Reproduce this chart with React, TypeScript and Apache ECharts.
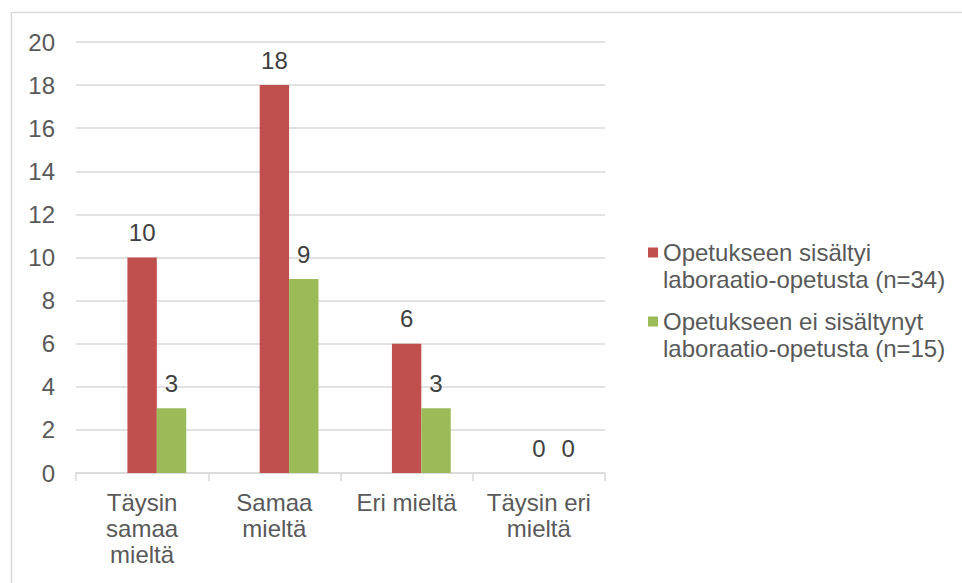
import React, { useEffect, useRef } from "react";
import * as echarts from "echarts";

const categories = ["Täysin\nsamaa\nmieltä", "Samaa\nmieltä", "Eri mieltä", "Täysin eri\nmieltä"];
const seriesNames = [
  "Opetukseen sisältyi\nlaboraatio-opetusta (n=34)",
  "Opetukseen ei sisältynyt\nlaboraatio-opetusta (n=15)",
];
const withLab = [10, 18, 6, 0];
const withoutLab = [3, 9, 3, 0];
const emptySeries = [null, null, null, null];
const yTicks = { min: 0, max: 20, interval: 2 };

const FONT = "'Liberation Sans', Arial, sans-serif";
const TXT = "#595959";
const GRID = "#D9D9D9";

export default function App() {
  const ref = useRef<HTMLDivElement>(null);
  useEffect(() => {
    if (!ref.current) return;
    const chart = echarts.init(ref.current, undefined, { renderer: "svg" });
    const label = {
      show: true,
      position: "top",
      distance: 13,
      color: "#404040",
      fontSize: 24,
      fontFamily: FONT,
    };
    const legendBase = {
      orient: "vertical",
      left: 648,
      padding: 0,
      itemWidth: 10,
      itemHeight: 10,
      icon: "rect",
      selectedMode: false,
      formatter: (name: string) => "\n" + name,
      textStyle: {
        color: TXT,
        fontSize: 24,
        fontFamily: FONT,
        lineHeight: 27,
      },
    };
    chart.setOption({
      animation: false,
      backgroundColor: "#ffffff",
      textStyle: { fontFamily: FONT },
      graphic: [
        {
          type: "rect",
          shape: { x: 11.5, y: 12.5, width: 1000, height: 700 },
          style: { fill: "none", stroke: GRID, lineWidth: 1.5 },
          silent: true,
          z: -10,
        },
      ],
      grid: { left: 76, right: 357, top: 42, bottom: 110, containLabel: false },
      legend: [
        { ...legendBase, data: [seriesNames[0]], top: 212 },
        { ...legendBase, data: [seriesNames[1]], top: 281 },
      ],
      xAxis: {
        type: "category",
        data: categories,
        axisLine: { show: true, lineStyle: { color: GRID, width: 1.5 } },
        axisTick: { show: true, length: 8, lineStyle: { color: GRID, width: 1.5 } },
        axisLabel: {
          color: TXT,
          fontSize: 24,
          fontFamily: FONT,
          lineHeight: 26,
          margin: 16,
          interval: 0,
        },
      },
      yAxis: {
        type: "value",
        min: yTicks.min,
        max: yTicks.max,
        interval: yTicks.interval,
        axisLine: { show: false },
        axisTick: { show: false },
        splitLine: { lineStyle: { color: GRID, width: 1.5 } },
        axisLabel: { color: TXT, fontSize: 24, fontFamily: FONT, margin: 21 },
      },
      series: [
        {
          name: "empty",
          type: "bar",
          data: emptySeries,
          barGap: "0%",
          barCategoryGap: "33.3%",
        },
        {
          name: seriesNames[0],
          type: "bar",
          data: withLab,
          itemStyle: { color: "#C0504D" },
          label,
          barGap: "0%",
          barCategoryGap: "33.3%",
        },
        {
          name: seriesNames[1],
          type: "bar",
          data: withoutLab,
          itemStyle: { color: "#9BBB59" },
          label,
          barGap: "0%",
          barCategoryGap: "33.3%",
        },
      ],
    });
    return () => chart.dispose();
  }, []);
  return (
    <div
      ref={ref}
      style={{ position: "fixed", left: 0, top: 0, width: 962, height: 583 }}
    />
  );
}
